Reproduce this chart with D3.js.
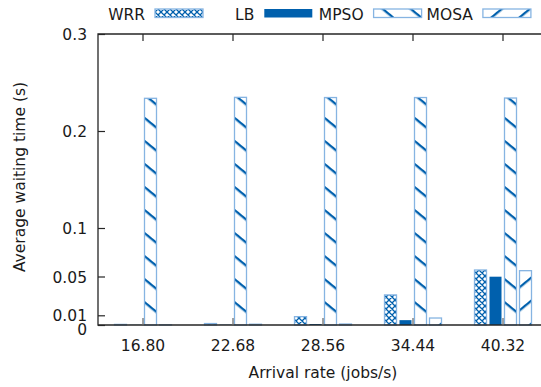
<!DOCTYPE html>
<html>
<head>
  <meta charset="utf-8">
  <title>Average waiting time</title>
  <style>
    body { margin: 0; background: #fff; }
    text { font-family: "DejaVu Sans", sans-serif; font-size: 15.5px; fill: #1a1a1a; }
  </style>
</head>
<body>
  <div id="plot"></div>
  <script src="https://cdn.jsdelivr.net/npm/d3@7"></script>
  <script>

    let categories = ['16.80', '22.68', '28.56', '34.44', '40.32'];
    let seriesNames = ['WRR', 'LB', 'MPSO', 'MOSA'];
    let wrrValues  = [0.0006, 0.0015, 0.0086, 0.0310, 0.0567];
    let lbValues   = [0.0002, 0.0003, 0.0010, 0.0050, 0.0498];
    let mpsoValues = [0.2337, 0.2347, 0.2345, 0.2345, 0.2340];
    let mosaValues = [0.0002, 0.0008, 0.0010, 0.0072, 0.0560];
    let yTicks = [0, 0.01, 0.05, 0.1, 0.2, 0.3];
    let yTickLabels = ['0', '0.01', '0.05', '0.1', '0.2', '0.3'];

    let seriesValues = [wrrValues, lbValues, mpsoValues, mosaValues];

    function translate(x, y) {
      return 'translate(' + x + ', ' + y + ')';
    }

    let svgWidth = 541;
    let svgHeight = 387;
    let plot = {left: 98, right: 548, top: 34, bottom: 325};
    let dark = '#0060ad';
    let light = '#86b4e2';
    let axisColor = '#262626';

    let svg = d3.select('#plot')
      .append('svg')
        .attr('width', svgWidth)
        .attr('height', svgHeight);

    // fill patterns
    let defs = svg.append('defs');

    let cross = defs.append('pattern')
      .attr('id', 'p-WRR')
      .attr('patternUnits', 'userSpaceOnUse')
      .attr('width', 6)
      .attr('height', 6);
    cross.append('rect').attr('width', 6).attr('height', 6).attr('fill', '#fff');
    cross.append('path')
      .attr('d', 'M0,0L6,6M6,0L0,6M-1,1L1,-1M5,7L7,5M-1,5L1,7M5,-1L7,1')
      .attr('stroke', dark)
      .attr('stroke-width', 1.3);

    function stripes(id, angle) {
      let p = defs.append('pattern')
        .attr('id', id)
        .attr('patternUnits', 'userSpaceOnUse')
        .attr('width', 10)
        .attr('height', 17.8)
        .attr('patternTransform', 'rotate(' + angle + ')');
      p.append('rect').attr('width', 10).attr('height', 17.8).attr('fill', '#fff');
      p.append('rect').attr('width', 10).attr('height', 2.3).attr('fill', dark);
    }
    stripes('p-MPSO', 39.4);
    stripes('p-MOSA', -39.4);

    function fillFor(name) {
      return name === 'LB' ? dark : 'url(#p-' + name + ')';
    }
    function strokeFor(name) {
      return name === 'LB' ? 'none' : light;
    }

    // scales
    let x = d3.scaleBand()
      .domain(categories)
      .range([plot.left, plot.right]);

    let xInner = d3.scaleBand()
      .domain(seriesNames)
      .range([-30, 30])
      .paddingInner(0.2)
      .paddingOuter(0.1);

    let y = d3.scaleLinear()
      .domain([0, 0.3])
      .range([plot.bottom, plot.top]);

    // bars
    let groups = svg.selectAll('.group')
      .data(categories)
      .enter()
      .append('g')
        .attr('class', 'group')
        .attr('transform', d => translate(x(d) + x.bandwidth() / 2, 0));

    groups.selectAll('rect')
      .data((d, i) => seriesNames.map((s, j) => ({ name: s, value: seriesValues[j][i] })))
      .enter()
      .append('rect')
        .attr('x', d => xInner(d.name))
        .attr('y', d => y(d.value))
        .attr('width', xInner.bandwidth())
        .attr('height', d => plot.bottom - y(d.value))
        .attr('fill', d => fillFor(d.name))
        .attr('stroke', d => strokeFor(d.name))
        .attr('stroke-width', 1.3);

    // frame
    svg.append('path')
      .attr('d', 'M' + plot.right + ',' + plot.top + 'H' + plot.left + 'V' + plot.bottom + 'H' + plot.right)
      .attr('fill', 'none')
      .attr('stroke', axisColor)
      .attr('stroke-width', 1.3);

    // y axis
    let yAxis = d3.axisLeft(y)
      .tickValues(yTicks)
      .tickFormat((d, i) => yTickLabels[i])
      .tickSizeInner(-7)
      .tickSizeOuter(0)
      .tickPadding(11);

    let yg = svg.append('g')
      .attr('transform', translate(plot.left, 0))
      .call(yAxis);
    yg.select('.domain').remove();
    yg.selectAll('line').attr('stroke', axisColor).attr('stroke-width', 1.2);
    yg.selectAll('text')
      .attr('font-size', null)
      .attr('font-family', null)
      .attr('dy', '0.36em');
    yg.selectAll('.tick')
      .filter(d => d === 0)
      .select('text')
      .attr('dy', '0.62em');

    // x axis
    let xAxis = d3.axisBottom(x)
      .tickSizeInner(-7)
      .tickSizeOuter(0)
      .tickPadding(15);

    let xg = svg.append('g')
      .attr('transform', translate(0, plot.bottom))
      .call(xAxis);
    xg.select('.domain').remove();
    xg.selectAll('line').attr('stroke', '#666').attr('stroke-width', 1.2);
    xg.selectAll('text').attr('font-size', null).attr('font-family', null);

    // top mirror ticks
    svg.append('g')
      .selectAll('line')
      .data(categories)
      .enter()
      .append('line')
        .attr('x1', d => x(d) + x.bandwidth() / 2)
        .attr('x2', d => x(d) + x.bandwidth() / 2)
        .attr('y1', plot.top)
        .attr('y2', plot.top + 7)
        .attr('stroke', axisColor)
        .attr('stroke-width', 1.2);

    // axis labels
    svg.append('text')
      .attr('x', (plot.left + plot.right) / 2)
      .attr('y', 378)
      .attr('text-anchor', 'middle')
      .text('Arrival rate (jobs/s)');

    svg.append('text')
      .attr('transform', translate(25, 177) + ' rotate(-90)')
      .attr('text-anchor', 'middle')
      .text('Average waiting time (s)');

    // legend
    let legend = svg.selectAll('.legend')
      .data(seriesNames)
      .enter()
      .append('g')
        .attr('class', 'legend')
        .attr('transform', (d, i) => translate(155 + i * 109.3, 0));

    legend.append('rect')
      .attr('x', 0)
      .attr('y', 9)
      .attr('width', 48)
      .attr('height', 8.5)
      .attr('fill', d => fillFor(d))
      .attr('stroke', d => strokeFor(d))
      .attr('stroke-width', 1.3);

    legend.append('text')
      .attr('x', -10)
      .attr('y', 20)
      .attr('text-anchor', 'end')
      .text(d => d);

  </script>
</body>
</html>
